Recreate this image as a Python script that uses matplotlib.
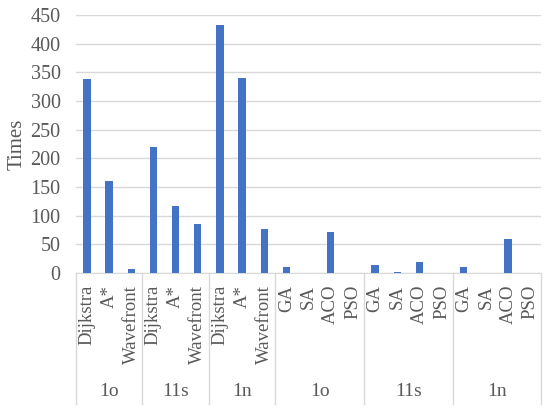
import numpy as np
import matplotlib.pyplot as plt
from matplotlib.transforms import blended_transform_factory

plt.rcParams['font.family'] = ['Liberation Serif', 'DejaVu Serif']

# 数据
groups = ['1o', '11s', '1n', '1o', '11s', '1n']
group_algos = [
    ['Dijkstra', 'A*', 'Wavefront'],
    ['Dijkstra', 'A*', 'Wavefront'],
    ['Dijkstra', 'A*', 'Wavefront'],
    ['GA', 'SA', 'ACO', 'PSO'],
    ['GA', 'SA', 'ACO', 'PSO'],
    ['GA', 'SA', 'ACO', 'PSO'],
]
group_values = [
    [339, 160, 8],
    [220, 117, 85],
    [432, 340, 77],
    [10, 0, 72, 0.5],
    [15, 2.5, 20, 1],
    [10, 0, 60, 1],
]
yticks = [0, 50, 100, 150, 200, 250, 300, 350, 400, 450]

labels = [a for g in group_algos for a in g]
values = [v for g in group_values for v in g]
x = np.arange(len(labels))

fig = plt.figure(figsize=(5.5, 4.12), dpi=100)
ax = fig.add_axes([0.138, 0.337, 0.846, 0.627])

ax.bar(x, values, width=0.33, color='#4472C4', zorder=3)

ax.set_xlim(-0.5, len(labels) - 0.5)
ax.set_ylim(0, 450)
ax.set_yticks(yticks)
ax.tick_params(axis='y', length=0, labelsize=14.5, labelcolor='#595959', pad=11)
ax.set_xticks([])
ax.grid(axis='y', color='#d9d9d9', linewidth=1, zorder=0)
for s in ['top', 'right', 'left']:
    ax.spines[s].set_visible(False)
ax.spines['bottom'].set_color('#d9d9d9')
ax.set_ylabel('Times', fontsize=15, color='#595959', labelpad=3)

# 多级分类轴
trans = blended_transform_factory(ax.transData, ax.transAxes)
for xi, lab in zip(x, labels):
    ax.text(xi, -0.045, lab, rotation=90, ha='center', va='top', fontsize=13.5,
            color='#595959', transform=trans)

start = 0
bounds = [-0.5]
for g, algos in zip(groups, group_algos):
    end = start + len(algos)
    ax.text((start + end - 1) / 2, -0.46, g, ha='center', va='center', fontsize=14,
            color='#595959', transform=trans)
    bounds.append(end - 0.5)
    start = end
for b in bounds:
    ax.plot([b, b], [0, -0.505], color='#d9d9d9', linewidth=1, transform=trans, clip_on=False)

fig.savefig('out.png', dpi=100)
